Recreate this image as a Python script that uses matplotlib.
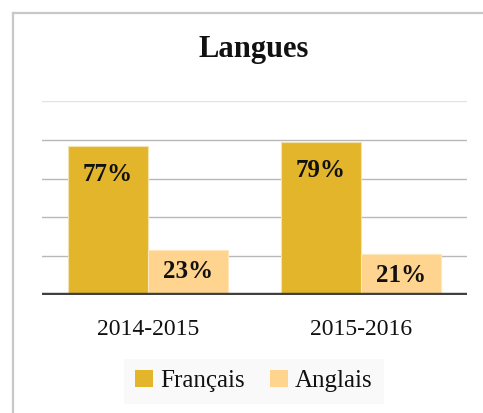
import matplotlib
matplotlib.use("Agg")
import matplotlib.pyplot as plt
from matplotlib.lines import Line2D
from matplotlib.patches import Patch
import numpy as np

categories = ["2014-2015", "2015-2016"]
series_names = ["Français", "Anglais"]
francais = [77, 79]
anglais = [23, 21]
colors = ["#E3B52A", "#FED48E"]
title = "Langues"

plt.rcParams['font.family'] = ['Liberation Serif', 'DejaVu Serif']

W, H = 483, 413
fig = plt.figure(figsize=(W / 100, H / 100), dpi=100)
ax = fig.add_axes([42 / W, 1 - 295 / H, (467 - 42) / W, (295 - 101) / H])

x = np.arange(len(categories))
bw = 0.376
off = 0.189
b1 = ax.bar(x - off, francais, bw, color=colors[0], edgecolor="#f3e3b0", linewidth=0.8, zorder=3)
b2 = ax.bar(x + off, anglais, bw, color=colors[1], edgecolor="#ffe7bd", linewidth=0.8, zorder=3)

ax.set_xlim(-0.5, 1.5)
ax.set_ylim(0, 100)
ax.set_yticks([20, 40, 60, 80])
for yv in [20, 40, 60, 80]:
    ax.axhline(yv, color="#b8b8b8", linewidth=1.0, zorder=1)
ax.axhline(100, color="#e2e2e2", linewidth=1.0, zorder=1)
ax.axhline(0, color="#404040", linewidth=3.2, zorder=4)
ax.set_yticklabels([])
ax.tick_params(axis='y', length=0)
for s in ax.spines.values():
    s.set_visible(False)

ax.set_xticks(x)
ax.set_xticklabels(categories, fontsize=17, color="#111111")
ax.tick_params(axis='x', length=0, pad=17)

for bars, vals in [(b1, francais), (b2, anglais)]:
    for r, v in zip(bars, vals):
        dy = -21 if v > 50 else -15
        ax.annotate(f"{v}%", (r.get_x() + r.get_width() / 2, v), xytext=(0, dy),
                    textcoords="offset points", ha="center", va="center",
                    fontsize=18, fontweight="bold", color="#111111", zorder=5)

fig.text(254 / W, 1 - 50 / H, title, ha="center", va="center", fontsize=22,
         fontweight="bold", color="#111111")

handles = [Patch(facecolor=colors[0], edgecolor="none"), Patch(facecolor=colors[1], edgecolor="none")]
leg = fig.legend(handles, series_names, loc="center", bbox_to_anchor=(254 / W, 1 - 381 / H),
                 ncol=2, frameon=True, fontsize=18, handlelength=0.7, handleheight=0.7,
                 handletextpad=0.3, columnspacing=1.0, borderpad=0.45, fancybox=False)
leg.get_frame().set_facecolor("#f8f8f8")
leg.get_frame().set_edgecolor("none")
for t in leg.get_texts():
    t.set_color("#111111")

# outer border (top & left)
fig.add_artist(Line2D([12.5 / W, 12.5 / W], [0, 1 - 12.5 / H], color="#c8c8c8", linewidth=1.6, transform=fig.transFigure))
fig.add_artist(Line2D([12.5 / W, 1], [1 - 12.5 / H, 1 - 12.5 / H], color="#c8c8c8", linewidth=1.6, transform=fig.transFigure))

fig.savefig("out.png", dpi=100)
